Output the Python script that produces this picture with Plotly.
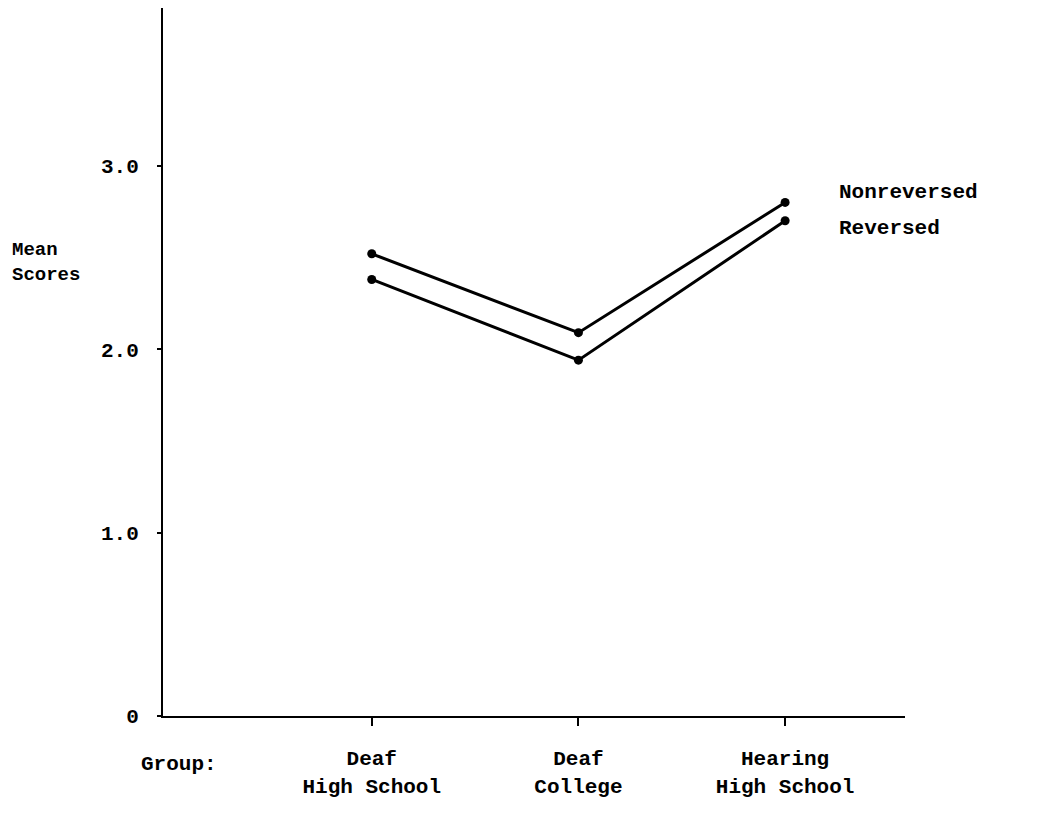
import plotly.graph_objects as go

groups = ["Deaf<br>High School", "Deaf<br>College", "Hearing<br>High School"]
nonreversed = [2.52, 2.09, 2.80]
reversed_ = [2.38, 1.94, 2.70]
y_ticks = [0, 1, 2, 3]
y_tick_labels = ["0", "1.0", "2.0", "3.0"]

FONT = dict(family="Liberation Mono", size=21, color="black", weight="bold")
xidx = [0, 1, 2]

fig = go.Figure()
for name, vals in [("Nonreversed", nonreversed), ("Reversed", reversed_)]:
    fig.add_trace(go.Scatter(
        x=xidx, y=vals, mode="lines+markers", name=name,
        line=dict(color="black", width=3),
        marker=dict(color="black", size=9),
        showlegend=False,
    ))

fig.add_annotation(x=2, y=nonreversed[2], xref="x", yref="y", text="Nonreversed",
                   showarrow=False, xanchor="left", yanchor="middle",
                   xshift=52, yshift=10, font=FONT)
fig.add_annotation(x=2, y=reversed_[2], xref="x", yref="y", text="Reversed",
                   showarrow=False, xanchor="left", yanchor="middle",
                   xshift=52, yshift=-8, font=FONT)
fig.add_annotation(x=-0.206, y=2.47, xref="paper", yref="y", text="Mean<br>Scores",
                   showarrow=False, xanchor="left", yanchor="middle", align="left",
                   font=dict(family="Liberation Mono", size=19, color="black", weight="bold"))
fig.add_annotation(x=-0.032, y=-0.069, xref="paper", yref="paper", text="Group:",
                   showarrow=False, xanchor="left", yanchor="middle",
                   font=FONT)

fig.update_xaxes(
    range=[-1.01, 2.58], tickvals=xidx, ticktext=groups,
    showgrid=False, zeroline=False, showline=True, linecolor="black", linewidth=2,
    ticks="outside", ticklen=8, tickwidth=2, tickcolor="black",
    tickfont=FONT, ticklabelstandoff=14,
)
fig.update_yaxes(
    range=[0, 3.86], tickvals=y_ticks, ticktext=y_tick_labels,
    showgrid=False, zeroline=False, showline=True, linecolor="black", linewidth=2,
    ticks="outside", ticklen=4, tickwidth=2, tickcolor="black",
    tickfont=FONT, ticklabelstandoff=14,
)
fig.update_layout(
    width=1048, height=797,
    margin=dict(l=155, r=151, t=0, b=89),
    plot_bgcolor="white", paper_bgcolor="white",
)
fig.write_html("out.html")
